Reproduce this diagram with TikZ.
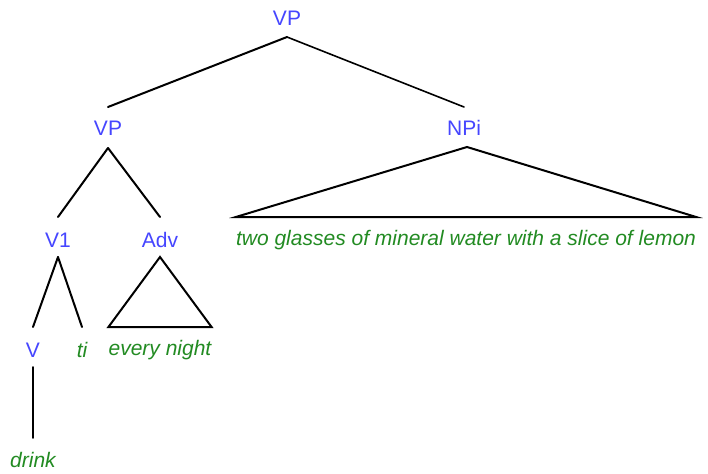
\documentclass[tikz,border=0pt]{standalone}
\usepackage{fontspec}
\setmainfont{Liberation Sans}
\definecolor{catblue}{RGB}{70,70,255}
\definecolor{wordgreen}{RGB}{34,139,34}
\begin{document}
\begin{tikzpicture}[x=1pt,y=-1pt,
  cat/.style={text=catblue,font=\fontsize{21}{25}\selectfont,inner sep=0pt},
  word/.style={text=wordgreen,font=\fontsize{21}{25}\selectfont\itshape,inner sep=0pt},
  edge/.style={line width=2pt,line cap=round,line join=miter}]
\useasboundingbox (0,0) rectangle (708,473);
\fill[white] (0,0) rectangle (708,473);
\node[cat] (vp) at (287,18) {VP};
\node[cat] (vp2) at (108,128) {VP};
\node[cat] (npi) at (464,128) {NPi};
\node[cat] (v1) at (58,240) {V1};
\node[cat] (adv) at (160,240) {Adv};
\node[word] (np) at (466,240) {two glasses of mineral water with a slice of lemon};
\node[cat] (v) at (33,350) {V};
\node[word] (ti) at (82,350) {ti};
\node[word] (en) at (160,350) {every night};
\node[word] (drink) at (33,460) {drink};
% edges
\draw[edge] ([yshift=-19]vp.center) -- ([yshift=21]vp2.center);
\draw[edge,line width=1.6pt] ([yshift=-19]vp.center) -- ([yshift=21]npi.center);
\draw[edge] ([yshift=-20]vp2.center) -- ([yshift=23]v1.center);
\draw[edge] ([yshift=-20]vp2.center) -- ([yshift=23]adv.center);
\draw[edge] ([yshift=-17]v1.center) -- ([yshift=23]v.center);
\draw[edge] ([yshift=-17]v1.center) -- ([yshift=23]ti.center);
\draw[edge,line width=1.6pt] ([yshift=-17]v.center) -- ([yshift=22]drink.center);
% triangles
\draw[edge] ([yshift=-17]adv.center) -- ([yshift=23]en.center -| en.west) -- ([yshift=23]en.center -| en.east) -- cycle;
\draw[edge] ([xshift=3,yshift=-19]npi.center) -- ([yshift=23]np.center -| np.west) -- ([yshift=23]np.center -| np.east) -- cycle;
\end{tikzpicture}
\end{document}
